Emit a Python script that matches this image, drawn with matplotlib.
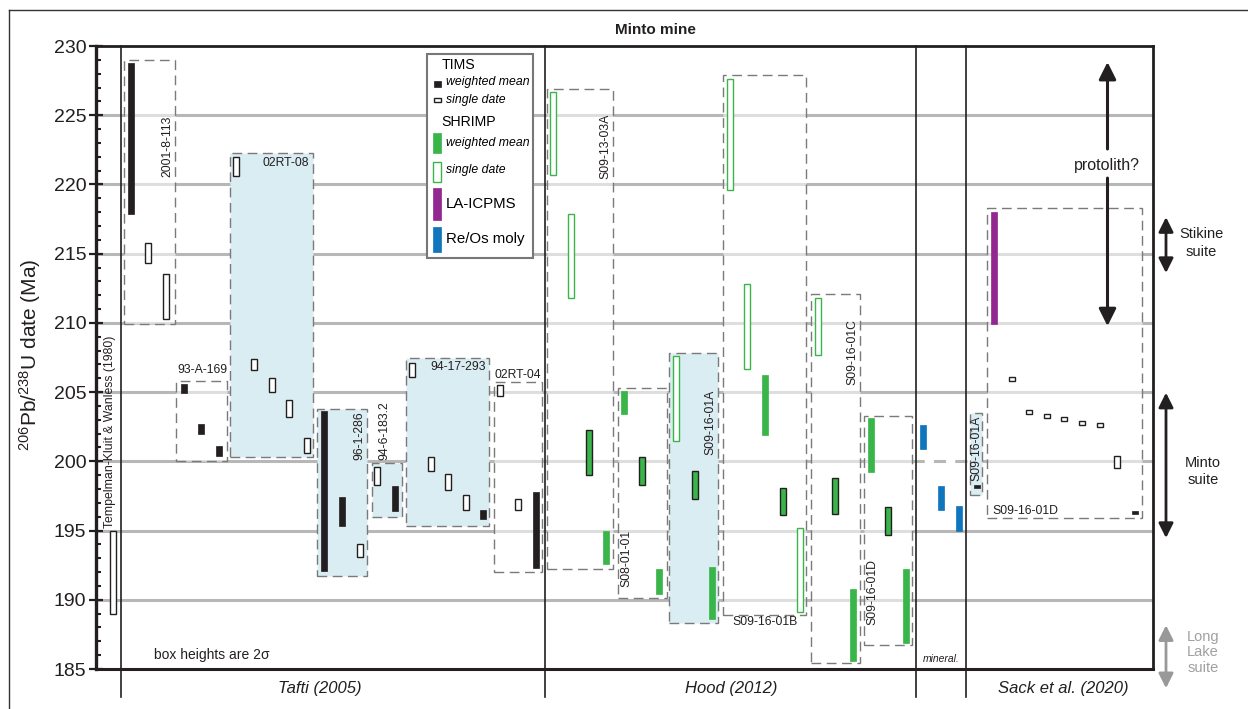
import matplotlib
matplotlib.use('Agg')

import matplotlib.pyplot as plt
from matplotlib.patches import Rectangle
from matplotlib.lines import Line2D

plt.rcParams['font.family'] = ['Liberation Sans', 'DejaVu Sans']
plt.rcParams['mathtext.fontset'] = 'custom'
plt.rcParams['mathtext.rm'] = 'Liberation Sans'
plt.rcParams['mathtext.it'] = 'Liberation Sans:italic'

# each analysis: (column x, age low, age high) in Ma
tims_mean = [(130.7, 217.9, 228.75), (183.5, 204.9, 205.6), (201.2, 202.0, 202.7),
             (218.8, 200.4, 201.1), (324.2, 192.1, 203.6), (342.0, 195.3, 197.4),
             (394.7, 196.4, 198.2), (483.0, 195.8, 196.5), (535.8, 192.3, 197.8),
             (976.7, 198.05, 198.3), (1135.0, 196.2, 196.4)]
tims_single = [(113.2, 189.0, 195.0), (148.0, 214.3, 215.8), (165.7, 210.3, 213.5),
               (236.0, 220.6, 222.0), (254.0, 206.6, 207.4), (271.7, 205.0, 206.0),
               (289.3, 203.2, 204.4), (306.8, 200.6, 201.7), (359.5, 193.1, 194.0),
               (377.2, 198.3, 199.6), (412.3, 206.1, 207.1), (430.5, 199.3, 200.3),
               (448.0, 197.9, 199.1), (465.7, 196.5, 197.6), (500.3, 204.7, 205.5),
               (517.8, 196.5, 197.3), (1011.7, 205.8, 206.1), (1029.0, 203.4, 203.7),
               (1046.7, 203.1, 203.4), (1064.3, 202.9, 203.2), (1082.0, 202.6, 202.9),
               (1099.7, 202.5, 202.8), (1117.2, 199.5, 200.4)]
shrimp_mean = [(606.3, 192.6, 195.0), (624.0, 203.4, 205.1), (659.0, 190.4, 192.2),
               (712.0, 188.6, 192.4), (764.8, 201.9, 206.2), (853.0, 185.6, 190.8),
               (870.5, 199.2, 203.1), (905.8, 186.9, 192.2)]
shrimp_pooled = [(588.8, 199.0, 202.25), (641.7, 198.3, 200.3), (694.5, 197.3, 199.3),
                 (782.5, 196.1, 198.1), (835.3, 196.2, 198.8), (888.3, 194.7, 196.7)]
shrimp_single = [(553.3, 220.7, 226.7), (571.3, 211.8, 217.9), (676.3, 201.5, 207.6),
                 (729.5, 219.6, 227.6), (747.3, 206.7, 212.8), (800.2, 189.1, 195.2),
                 (817.5, 207.7, 211.8)]
laicpms = [(993.8, 209.9, 218.0)]
reos_moly = [(923.3, 200.9, 202.6), (941.0, 196.5, 198.2), (959.0, 195.0, 196.8)]

# sample envelopes
sample_names = ['2001-8-113', '93-A-169', '02RT-08', '96-1-286', '94-6-183.2', '94-17-293',
                '02RT-04', 'S09-13-03A', 'S08-01-01', 'S09-16-01A', 'S09-16-01B',
                'S09-16-01C', 'S09-16-01D', 'S09-16-01A', 'S09-16-01D']
sample_lo = [209.9, 200.0, 200.3, 191.7, 196.0, 195.3, 192.0, 192.2, 190.15, 188.3,
             188.9, 185.4, 186.7, 197.6, 195.9]
sample_hi = [229.0, 205.8, 222.3, 203.8, 199.85, 207.5, 205.75, 226.9, 205.33, 207.8,
             227.9, 212.1, 203.3, 203.5, 218.3]
sample_shaded = [False, False, True, True, True, True, False, False, False, True,
                 False, False, False, True, False]

sources = ['Tafti (2005)', 'Hood (2012)', 'Sack et al. (2020)']
early_source = 'Tempelman-Kluit & Wanless (1980)'

# layout (x in column units, same scale as the axis)
box_x = [(124.3, 175.3), (176.0, 226.7), (230.3, 312.7), (317.3, 366.7), (371.7, 401.7),
         (405.7, 489.3), (493.7, 541.7), (547.3, 612.7), (617.7, 666.7), (669.3, 718.3),
         (722.7, 806.0), (810.7, 860.3), (864.3, 912.3), (970.0, 982.0), (987.3, 1141.7)]
label_pos = [(167, 225.0, 90, 'top'), (202, 206.6, 0, 'center'), (286, 221.55, 0, 'center'),
             (359, 203.6, 90, 'top'), (384.5, 200.1, 90, 'bottom'), (458, 206.8, 0, 'center'),
             (518, 206.25, 0, 'center'), (605, 225.1, 90, 'top'), (626.5, 190.9, 90, 'bottom'),
             (710, 205.2, 90, 'top'), (765, 188.4, 0, 'center'), (852, 210.3, 90, 'top'),
             (872.5, 188.2, 90, 'bottom'), (976, 203.3, 90, 'top'), (1025, 196.4, 0, 'center')]
source_x = [320, 731, 1063]
separators = [121, 545, 916, 966]

BLACK = '#231f20'
GREEN = '#39b54a'
PURPLE = '#92278f'
BLUE = '#0f75bc'
SHADE = '#daedf2'
BAR_W = 6

fig = plt.figure(figsize=(12.48, 7.09), dpi=100)
ax = fig.add_axes([96 / 1248, 1 - 669 / 709, (1153 - 96) / 1248, (669 - 46) / 709])
ax.set_xlim(96, 1153)
ax.set_ylim(185, 230)

# grid
for g in range(190, 230, 5):
    if g == 200:
        ax.plot([96, 912], [g, g], color='#b7b7b7', lw=2.2, zorder=0.5)
        ax.plot([912, 987], [g, g], color='#b7b7b7', lw=2.2, ls=(0, (4, 3)), zorder=0.5)
        ax.plot([987, 1153], [g, g], color='#b7b7b7', lw=2.2, zorder=0.5)
    else:
        ax.axhline(g, color='#b7b7b7', lw=2.2, zorder=0.5)

# sample envelopes
for (x0, x1), lo, hi, shaded in zip(box_x, sample_lo, sample_hi, sample_shaded):
    ax.add_patch(Rectangle((x0, lo), x1 - x0, hi - lo,
                           facecolor=SHADE if shaded else (1, 1, 1, 0.55),
                           edgecolor='#7a7a7a', lw=1.0, ls=(0, (7, 4)), zorder=1))
for name, (lx, ly, rot, va) in zip(sample_names, label_pos):
    ax.text(lx, ly, name, rotation=rot, ha='center', va=va, fontsize=8.8,
            color='#231f20', zorder=4)
ax.text(110.5, 195.2, early_source, rotation=90, ha='center', va='bottom', fontsize=8.8,
        color='#231f20', zorder=4)


def bars(data, face, edge, lw, width=BAR_W):
    for x, lo, hi in data:
        ax.add_patch(Rectangle((x - width / 2, lo), width, hi - lo, facecolor=face,
                               edgecolor=edge, lw=lw, zorder=3))


bars(tims_mean, BLACK, BLACK, 0.5)
bars(tims_single, 'white', BLACK, 1.0)
bars(shrimp_mean, GREEN, GREEN, 0.5)
bars(shrimp_pooled, GREEN, BLACK, 1.0)
bars(shrimp_single, 'white', GREEN, 1.0)
bars(laicpms, PURPLE, PURPLE, 0.5)
bars(reos_moly, BLUE, BLUE, 0.5)

# column separators reaching down to the source labels
for sx in separators:
    ax.plot([sx, sx], [230, 182.96], color=BLACK, lw=1.2, clip_on=False, zorder=2)
for name, sx in zip(sources, source_x):
    ax.text(sx, 183.6, name, ha='center', va='center', fontsize=12, style='italic',
            color=BLACK)
ax.text(941, 185.7, 'mineral.', ha='center', va='center', fontsize=7.5, style='italic',
        color=BLACK)
ax.text(154, 186.0, 'box heights are 2\u03c3', ha='left', va='center', fontsize=10,
        color=BLACK)

# legend
ax.add_patch(Rectangle((426.7, 214.7), 106.6, 14.72, facecolor='white', edgecolor='#777777',
                       lw=1.5, zorder=5))
ax.text(441.7, 228.63, 'TIMS', fontsize=10.2, va='center', zorder=6)
ax.text(441.7, 224.53, 'SHRIMP', fontsize=10.2, va='center', zorder=6)
ax.add_patch(Rectangle((434, 227.05), 6.5, 0.4, facecolor=BLACK, edgecolor=BLACK, lw=0.5, zorder=6))
ax.add_patch(Rectangle((434, 225.95), 6.5, 0.27, facecolor='white', edgecolor=BLACK, lw=1.0, zorder=6))
ax.add_patch(Rectangle((433.3, 222.25), 7.7, 1.46, facecolor=GREEN, edgecolor=GREEN, lw=0.5, zorder=6))
ax.add_patch(Rectangle((433.3, 220.2), 7.7, 1.44, facecolor='white', edgecolor=GREEN, lw=1.0, zorder=6))
ax.add_patch(Rectangle((433.3, 217.43), 7.7, 2.29, facecolor=PURPLE, edgecolor=PURPLE, lw=0.5, zorder=6))
ax.add_patch(Rectangle((433.3, 215.09), 7.7, 1.85, facecolor=BLUE, edgecolor=BLUE, lw=0.5, zorder=6))
for ty, txt in [(227.42, 'weighted mean'), (226.1, 'single date'),
                (222.99, 'weighted mean'), (221.04, 'single date')]:
    ax.text(445.7, ty, txt, fontsize=8.8, style='italic', va='center', zorder=6)
ax.text(445.7, 218.58, 'LA-ICPMS', fontsize=10.8, va='center', zorder=6)
ax.text(445.7, 216.05, 'Re/Os moly', fontsize=10.8, va='center', zorder=6)

# protolith arrows
arrow = dict(arrowstyle='-|>', lw=2.2, color=BLACK, mutation_scale=26, shrinkA=0, shrinkB=0)
ax.annotate('', xy=(1107.5, 228.84), xytext=(1107.5, 222.56), arrowprops=arrow)
ax.annotate('', xy=(1107.5, 209.77), xytext=(1107.5, 220.46), arrowprops=arrow)
ax.text(1106.7, 221.4, 'protolith?', ha='center', va='center', fontsize=11.5, color=BLACK)

# suite ranges outside the frame
dbl = dict(arrowstyle='<|-|>', lw=2.0, color=BLACK, mutation_scale=22, shrinkA=0, shrinkB=0)
ax.annotate('', xy=(1166, 217.64), xytext=(1166, 213.6), arrowprops=dbl, annotation_clip=False)
ax.annotate('', xy=(1166, 204.96), xytext=(1166, 194.46), arrowprops=dbl, annotation_clip=False)
gray_dbl = dict(dbl, color='#999999')
ax.annotate('', xy=(1166, 188.16), xytext=(1166, 183.61), arrowprops=gray_dbl,
            annotation_clip=False)
ax.text(1201, 215.77, 'Stikine\nsuite', ha='center', va='center', fontsize=10.5,
        linespacing=1.3, color=BLACK, clip_on=False)
ax.text(1203, 199.25, 'Minto\nsuite', ha='center', va='center', fontsize=10.5,
        linespacing=1.3, color=BLACK, clip_on=False)
ax.text(1203, 186.2, 'Long\nLake\nsuite', ha='center', va='center', fontsize=10.5,
        linespacing=1.15, color='#a0a0a0', clip_on=False)

# axes styling
ax.set_xticks([])
ax.set_yticks(range(185, 231, 5))
ax.set_yticks(range(185, 231), minor=True)
ax.tick_params(axis='y', which='major', direction='inout', length=10, width=1.6,
               labelsize=14, pad=2, colors=BLACK)
ax.tick_params(axis='y', which='minor', direction='in', length=3.5, width=1.5, colors=BLACK)
for side, w in [('left', 2.4), ('bottom', 2.2), ('top', 2.0), ('right', 2.0)]:
    ax.spines[side].set_linewidth(w)
    ax.spines[side].set_color(BLACK)

fig.text(30 / 1248, 1 - 355 / 709, r'$^{206}\mathrm{Pb}/^{238}\mathrm{U}$ date (Ma)',
         rotation=90, ha='center', va='center', fontsize=15, color=BLACK)
fig.text(655 / 1248, 1 - 30 / 709, 'Minto mine', ha='center', va='center', fontsize=11,
         fontweight='bold', color=BLACK)

# outer frame
fig.add_artist(Line2D([9 / 1248, 1], [1 - 10 / 709, 1 - 10 / 709], color='#333333', lw=1.0))
fig.add_artist(Line2D([9 / 1248, 9 / 1248], [0, 1 - 10 / 709], color='#333333', lw=1.0))

fig.savefig('out.png', dpi=100)
